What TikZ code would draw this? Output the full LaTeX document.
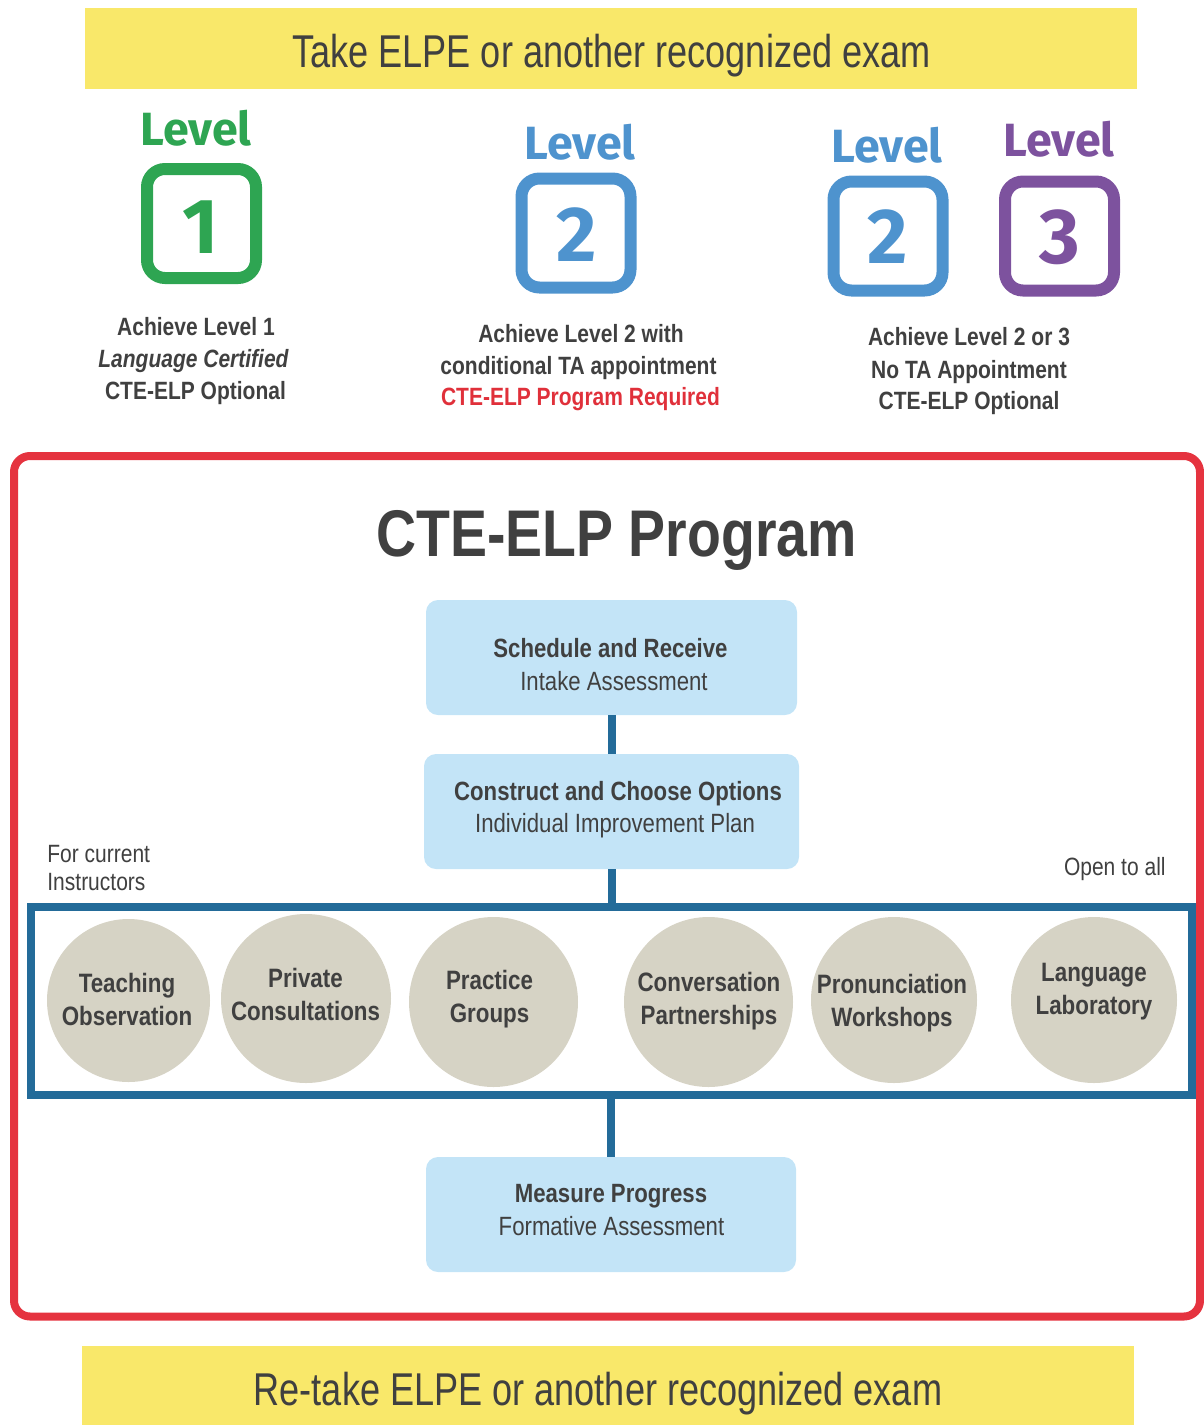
\documentclass[tikz,border=0pt]{standalone}
\usepackage{fontspec}
\setmainfont{Liberation Sans}[FakeStretch=0.84]
\newfontfamily\bannerfont{Liberation Sans}[FakeStretch=0.785]
\newfontfamily\lvlfont{Fira Sans}
\usetikzlibrary{shapes.geometric}
\definecolor{ink}{HTML}{404040}
\definecolor{banneryellow}{HTML}{F9E86A}
\definecolor{lvlgreen}{HTML}{2EA552}
\definecolor{lvlblue}{HTML}{4E93CE}
\definecolor{lvlpurple}{HTML}{7D529E}
\definecolor{progred}{HTML}{E5333F}
\definecolor{reqred}{HTML}{E0303A}
\definecolor{stepblue}{HTML}{C3E4F7}
\definecolor{linkblue}{HTML}{236B99}
\definecolor{optgray}{HTML}{D6D3C5}
\begin{document}
\begin{tikzpicture}[x=0.5pt,y=-0.5pt,
 txt/.style={text=ink, inner sep=0pt, anchor=base},
 banner/.style={fill=banneryellow, inner sep=0pt, minimum width=526pt},
 bannertxt/.style={txt, font=\bannerfont\fontsize{23}{28}\selectfont},
 lvlword/.style={inner sep=0pt, anchor=base, font=\lvlfont\bfseries\fontsize{23.3}{28}\selectfont},
 lvlnum/.style={inner sep=0pt, anchor=base, font=\lvlfont\bfseries\fontsize{39}{44}\selectfont},
 lvlbox/.style={draw, line width=6pt, rounded corners=9pt, minimum width=54.5pt, minimum height=54.5pt, inner sep=0pt},
 subtxt/.style={txt, font=\bfseries\fontsize{12.5}{15}\selectfont},
 stepbox/.style={fill=stepblue, rounded corners=6pt, inner sep=0pt, minimum width=185.5pt, minimum height=57.5pt},
 stephead/.style={txt, font=\bfseries\fontsize{13.2}{16}\selectfont},
 stepsub/.style={txt, font=\fontsize{13.2}{16}\selectfont},
 optcirc/.style={ellipse, fill=optgray, inner sep=0pt},
 opttxt/.style={text=ink, inner sep=0pt, align=center, font=\bfseries\fontsize{13.3}{16.5}\selectfont},
 note/.style={txt, font=\fontsize{12.5}{14.5}\selectfont},
 conn/.style={draw=linkblue, line width=4pt}
]
\useasboundingbox (0,0) rectangle (1204,1425);

% top banner
\node[banner, minimum height=40.5pt] (top) at (611,48.5) {};
\node[bannertxt] (toptxt) at (611.5,67) {Take ELPE or another recognized exam};

% level badges
\node[lvlword, text=lvlgreen] (w1) at (196,145) {Level};
\node[lvlbox, draw=lvlgreen] (bx1) at (201.5,223.5) {};
\node[lvlnum, text=lvlgreen] (n1) at (201,253) {1};

\node[lvlword, text=lvlblue] (w2) at (580,159) {Level};
\node[lvlbox, draw=lvlblue] (bx2) at (576,233) {};
\node[lvlnum, text=lvlblue] (n2) at (577,261) {2};

\node[lvlword, text=lvlblue] (w3) at (887,162) {Level};
\node[lvlbox, draw=lvlblue] (bx3) at (888,236) {};
\node[lvlnum, text=lvlblue] (n3) at (888,263) {2};

\node[lvlword, text=lvlpurple] (w4) at (1059,156) {Level};
\node[lvlbox, draw=lvlpurple] (bx4) at (1059.5,236) {};
\node[lvlnum, text=lvlpurple] (n4) at (1060,263) {3};

% level descriptions
\node[subtxt] (d1a) at (196,335) {Achieve Level 1};
\node[subtxt] (d1b) at (193.5,367) {\itshape Language Certified};
\node[subtxt] (d1c) at (195.5,399) {CTE-ELP Optional};

\node[subtxt] (d2a) at (581,342) {Achieve Level 2 with};
\node[subtxt] (d2b) at (578.5,374) {conditional TA appointment};
\node[subtxt, text=reqred] (d2c) at (580.5,405) {CTE-ELP Program Required};

\node[subtxt] (d3a) at (969,345) {Achieve Level 2 or 3};
\node[subtxt] (d3b) at (969,378) {No TA Appointment};
\node[subtxt] (d3c) at (969,409) {CTE-ELP Optional};

% program frame
\node[draw=progred, line width=4pt, rounded corners=8pt, minimum width=593pt, minimum height=430.25pt, inner sep=0pt] (prog) at (607,886.25) {};
\node[txt, font=\bfseries\fontsize{33}{40}\selectfont] (title) at (616.5,556) {CTE-ELP Program};

% steps
\node[stepbox] (s1) at (611.5,657.5) {};
\node[stephead] (s1a) at (610.5,657) {Schedule and Receive};
\node[stepsub] (s1b) at (614,690) {Intake Assessment};

\node[stepbox, minimum width=187.5pt] (s2) at (611.5,811.5) {};
\node[stephead] (s2a) at (618,800) {Construct and Choose Options};
\node[stepsub] (s2b) at (615,832) {Individual Improvement Plan};

\node[stepbox, minimum width=185pt] (s3) at (611,1214.5) {};
\node[stephead] (s3a) at (611,1202) {Measure Progress};
\node[stepsub] (s3b) at (611.5,1235) {Formative Assessment};

% options frame
\node[draw=linkblue, line width=4pt, minimum width=580.5pt, minimum height=94pt, inner sep=0pt] (opts) at (611.5,1001) {};
\node[note, anchor=base west] (fc1) at (47,862) {For current};
\node[note, anchor=base west] (fc2) at (47,890) {Instructors};
\node[note, anchor=base east] (oa) at (1166,875) {Open to all};

\node[optcirc, minimum width=81.5pt, minimum height=81.5pt] (c1) at (128.5,1000.5) {};
\node[opttxt] (c1t) at (127,999) {Teaching\\Observation};
\node[optcirc, minimum width=85pt, minimum height=84.5pt] (c2) at (306,998.5) {};
\node[opttxt] (c2t) at (305.5,994) {Private\\Consultations};
\node[optcirc, minimum width=84.5pt, minimum height=85pt] (c3) at (493.5,1002) {};
\node[opttxt] (c3t) at (489.5,999) {Practice\\Groups};
\node[optcirc, minimum width=84.5pt, minimum height=85pt] (c4) at (708.5,1002) {};
\node[opttxt] (c4t) at (709,1001) {Conversation\\Partnerships};
\node[optcirc, minimum width=83pt, minimum height=83pt] (c5) at (894,1000) {};
\node[opttxt] (c5t) at (892,1003) {Pronunciation\\Workshops};
\node[optcirc, minimum width=83pt, minimum height=83pt] (c6) at (1094,1000) {};
\node[opttxt] (c6t) at (1094,992) {Language\\Laboratory};

% connectors
\draw[conn] (s1.south) -- (s2.north);
\draw[conn] (s2.south) -- (s2.south |- opts.north);
\draw[conn] (s3.north |- opts.south) -- (s3.north);

% bottom banner
\node[banner, minimum height=39.5pt] (bot) at (608,1385.5) {};
\node[bannertxt] (bottxt) at (598,1405) {Re-take ELPE or another recognized exam};
\end{tikzpicture}
\end{document}
